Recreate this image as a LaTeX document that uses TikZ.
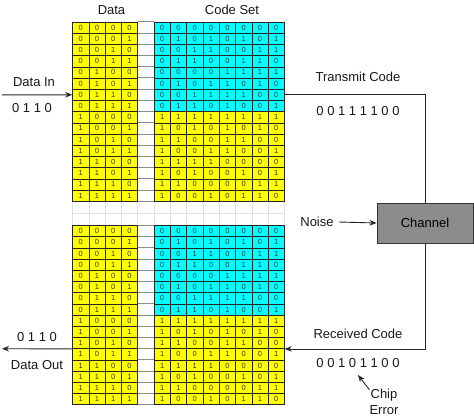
\documentclass[tikz,border=0pt]{standalone}
\usepackage{fontspec}
\setmainfont{Liberation Sans}
\usetikzlibrary{arrows.meta}
\definecolor{cy}{HTML}{00FFFF}
\definecolor{ye}{HTML}{FFFF00}
\tikzset{
  cell/.style={draw=black!85, line width=0.5pt, minimum width=16.3pt, minimum height=11.2pt,
    inner sep=0pt, font=\fontsize{7.5}{8}\selectfont, text=black!80},
  lbl/.style={font=\fontsize{13}{15}\selectfont, text=black!90, inner sep=0pt},
  conn/.style={line width=0.9pt, draw=black!85},
  arr/.style={conn, -{Stealth[length=7pt,width=5.5pt]}},
  chanbox/.style={draw=black!80, line width=0.8pt, fill=black!45, minimum width=96pt,
    minimum height=40pt, inner sep=0pt, font=\fontsize{13}{15}\selectfont},
  gapline/.style={draw=black!45, line width=1pt},
  faint/.style={draw=black!12, line width=0.5pt}
}
\begin{document}
\begin{tikzpicture}[x=1pt,y=-1pt]
\useasboundingbox (0,0) rectangle (474,420);
\fill[white] (0,0) rectangle (474,420);
% faint grid between the two tables
\foreach \yy in {201,213,225}{\draw[faint] (72.5,\yy) -- (284.4,\yy);}
\foreach \i in {0,...,13}{\draw[faint] (72.5+16.3*\i,201) -- (72.5+16.3*\i,225);}
% tables
\foreach \tn/\ty in {t/22, b/225.5}{
  \foreach \r/\bits in {
    0/{0,0,0,0,0,0,0,0,0,0,0,0},
    1/{0,0,0,1,0,1,0,1,0,1,0,1},
    2/{0,0,1,0,0,0,1,1,0,0,1,1},
    3/{0,0,1,1,0,1,1,0,0,1,1,0},
    4/{0,1,0,0,0,0,0,0,1,1,1,1},
    5/{0,1,0,1,0,1,0,1,1,0,1,0},
    6/{0,1,1,0,0,0,1,1,1,1,0,0},
    7/{0,1,1,1,0,1,1,0,1,0,0,1},
    8/{1,0,0,0,1,1,1,1,1,1,1,1},
    9/{1,0,0,1,1,0,1,0,1,0,1,0},
    10/{1,0,1,0,1,1,0,0,1,1,0,0},
    11/{1,0,1,1,1,0,0,1,1,0,0,1},
    12/{1,1,0,0,1,1,1,1,0,0,0,0},
    13/{1,1,0,1,1,0,1,0,0,1,0,1},
    14/{1,1,1,0,1,1,0,0,0,0,1,1},
    15/{1,1,1,1,1,0,0,1,0,1,1,0}}{
    \pgfmathsetmacro\cy{\ty+11.2*(\r+0.5)}
    \foreach \d [count=\k from 0] in \bits {
      \ifnum\k<4\relax
        \def\cc{ye}\pgfmathsetmacro\cx{72.5+16.3*(\k+0.5)}
      \else
        \pgfmathsetmacro\cx{72.5+16.3*(\k+1.5)}
        \ifnum\r<8\relax\def\cc{cy}\else\def\cc{ye}\fi
      \fi
      \node[cell, fill=\cc] (\tn-\r-\k) at (\cx,\cy) {\d};
    }
    \draw[gapline] (137.9,\ty+11.2*\r) -- (153.8,\ty+11.2*\r);
    \draw[gapline] (137.9,\ty+11.2*\r+11.2) -- (153.8,\ty+11.2*\r+11.2);
  }
}
% headings
\node[lbl] (hdata) at (111.5,10) {Data};
\node[lbl] (hcode) at (232,10) {Code Set};
% left labels
\node[lbl] (datain) at (34,82) {Data In};
\node[lbl] (inbits) at (32,108) {0 1 1 0};
\node[lbl] (outbits) at (37,337) {0 1 1 0};
\node[lbl] (dataout) at (37,365) {Data Out};
% right labels
\node[lbl] (txlbl) at (358,77) {Transmit Code};
\node[lbl] (txbits) at (358,111) {0 0 1 1 1 1 0 0};
\node[lbl] (rxlbl) at (358,334) {Received Code};
\node[lbl] (rxbits) at (358,363) {0 0 1 0 1 1 0 0};
\node[lbl] (noise) at (317,222) {Noise};
\node[lbl] (chip) at (384,395) {Chip};
\node[lbl] (err) at (384,410) {Error};
\node[chanbox] (ch) at (425,223) {Channel};
% connector ends
\coordinate (din) at (2,94.8);
\coordinate (dout) at (2,348.7);
\coordinate (chiptip) at (358,375);
% connectors
\draw[arr] (din) -- (t-6-0.west);
\draw[conn] (t-6-11.east) -| (ch.north);
\draw[arr] (ch.south) |- (b-10-11.south east);
\draw[arr] (b-10-0.south west) -- (dout);
\draw[arr] ([xshift=5pt]noise.east) -- (ch.west);
\draw[arr] ([xshift=-1pt,yshift=-1pt]chip.north west) -- (chiptip);
\end{tikzpicture}
\end{document}
